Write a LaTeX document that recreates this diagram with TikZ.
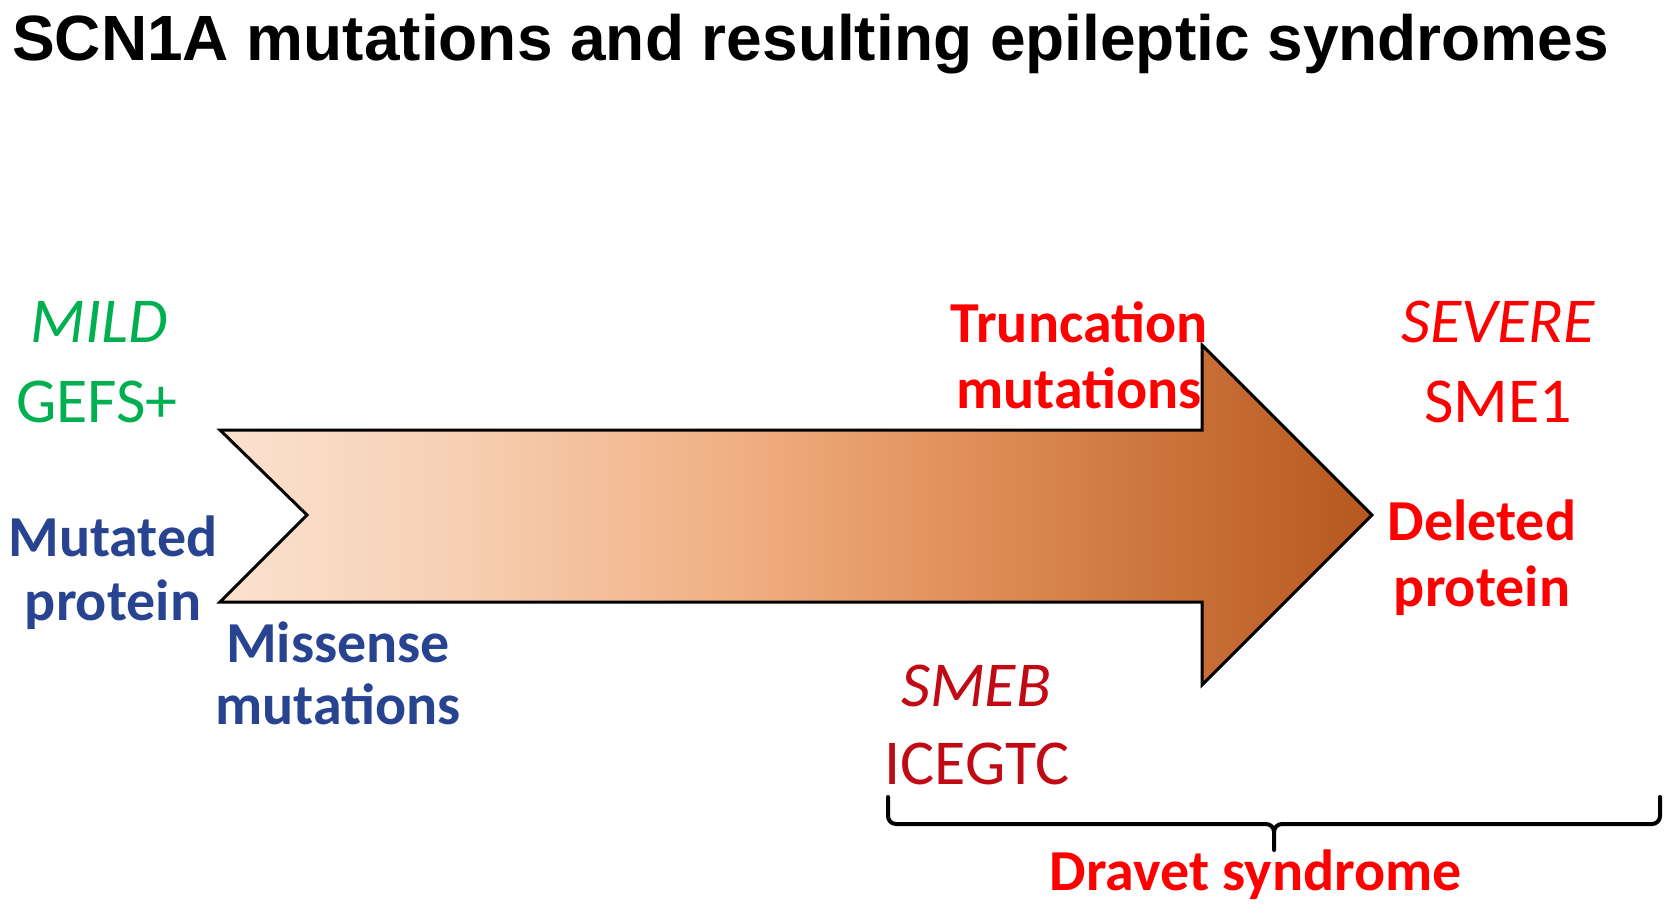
\documentclass[tikz,border=0pt]{standalone}
\usepackage{fontspec}
\setmainfont{Carlito}
\newfontfamily\titlefont{Liberation Sans}
\definecolor{mildgreen}{RGB}{0,176,80}
\definecolor{protblue}{RGB}{40,68,145}
\definecolor{sevred}{RGB}{255,0,0}
\definecolor{darkred}{RGB}{192,10,20}
\definecolor{cA}{RGB}{250,226,208}
\definecolor{cB}{RGB}{247,208,180}
\definecolor{cC}{RGB}{240,175,130}
\definecolor{cD}{RGB}{224,143,88}
\definecolor{cE}{RGB}{200,110,55}
\definecolor{cF}{RGB}{180,88,30}
\pgfdeclarehorizontalshading{arrowshade}{100bp}{
  color(0bp)=(cA); color(25bp)=(cA); color(35bp)=(cB); color(47.5bp)=(cC); color(57.5bp)=(cD); color(67.5bp)=(cE); color(75bp)=(cF); color(100bp)=(cF)}
\tikzset{
  txt/.style={inner sep=0pt, anchor=base, font=\fontsize{64}{70}\selectfont},
  bold/.style={txt, font=\fontsize{58}{64}\selectfont\bfseries},
  ital/.style={txt, font=\fontsize{64}{70}\selectfont\itshape},
}
\begin{document}
\begin{tikzpicture}[x=1pt,y=-1pt]
\useasboundingbox (0,0) rectangle (1677,913);
% title
\node[inner sep=0pt, anchor=base west, font=\fontsize{64}{70}\selectfont\titlefont\bfseries] (title) at (12,60) {SCN1A mutations and resulting epileptic syndromes};
% arrow
\shade[shading=arrowshade] (220,430) -- (1202,430) -- (1202,345) -- (1372,515) -- (1202,685) -- (1202,602) -- (220,602) -- (307,515) -- cycle;
\draw[line width=3pt, line join=miter] (220,430) -- (1202,430) -- (1202,345) -- (1372,515) -- (1202,685) -- (1202,602) -- (220,602) -- (307,515) -- cycle;
% left texts
\node[ital, text=mildgreen] (mild) at (99,342) {MILD};
\node[txt, text=mildgreen] (gefs) at (97,422) {GEFS+};
\node[bold, text=protblue] (mut1) at (113,556) {Mutated};
\node[bold, text=protblue] (mut2) at (113,620) {protein};
\node[bold, text=protblue] (mis1) at (338,662) {Missense};
\node[bold, text=protblue] (mis2) at (338,724) {mutations};
% right texts
\node[bold, text=sevred] (tr1) at (1079,342) {Truncation};
\node[bold, text=sevred] (tr2) at (1079,408) {mutations};
\node[ital, text=sevred] (severe) at (1498,342) {SEVERE};
\node[txt, text=sevred] (sme1) at (1498,422) {SME1};
\node[bold, text=sevred] (del1) at (1482,540) {Deleted};
\node[bold, text=sevred] (del2) at (1482,606) {protein};
\node[ital, text=darkred] (smeb) at (976,706) {SMEB};
\node[txt, text=darkred] (icegtc) at (977,784) {ICEGTC};
% brace
\draw[line width=4pt, line cap=round, line join=round]
  (888,797) -- (888,816) to[out=-90,in=180] (896,824) -- (1266,824) to[out=0,in=90] (1274,832) -- (1274,850);
\draw[line width=4pt, line cap=round, line join=round]
  (1274,832) to[out=90,in=180] (1282,824) -- (1652,824) to[out=0,in=-90] (1660,816) -- (1660,797);
\node[bold, text=sevred] (dravet) at (1256,890) {Dravet syndrome};
\end{tikzpicture}
\end{document}
